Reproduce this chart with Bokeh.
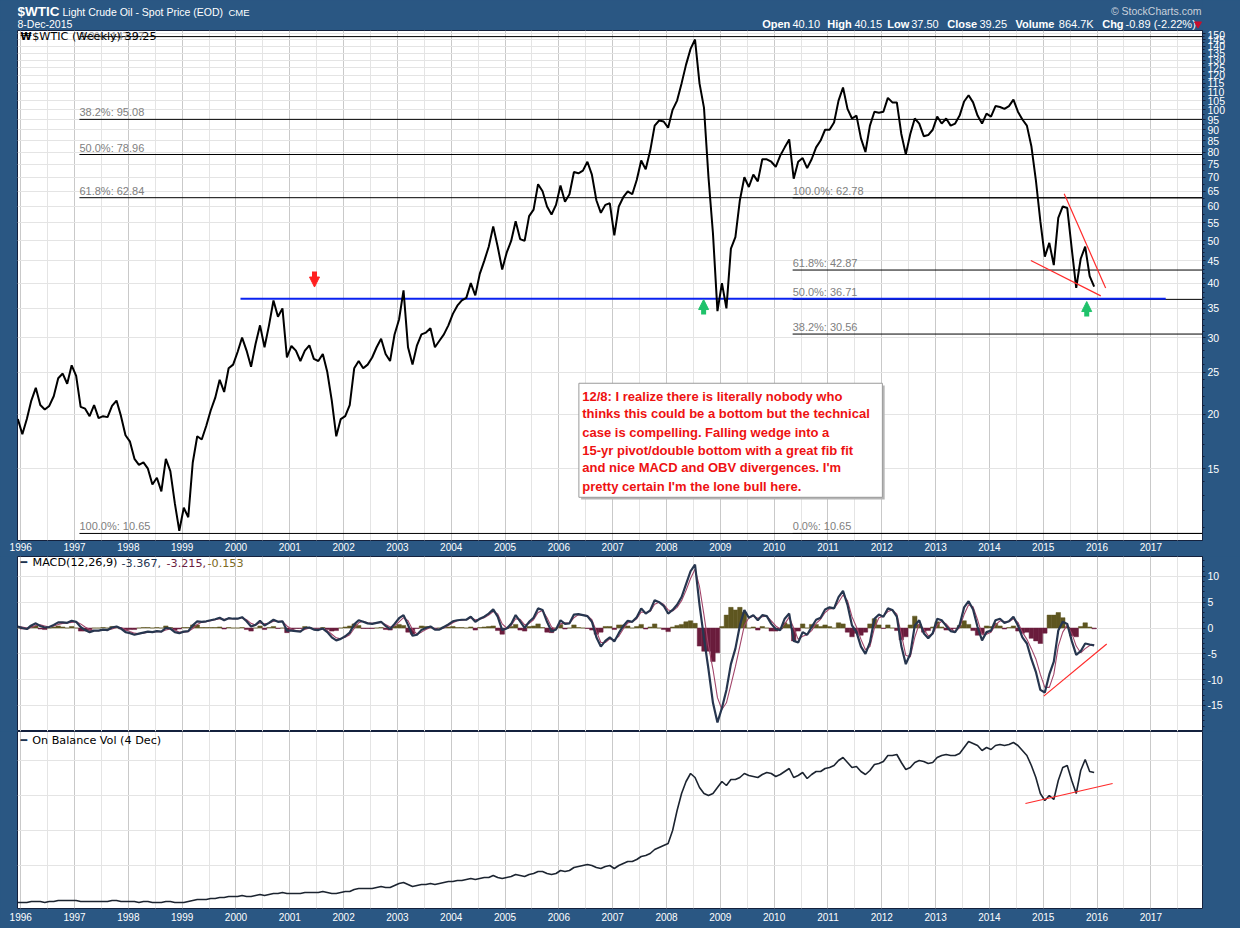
import numpy as np
import pandas as pd
from bokeh.plotting import figure
from bokeh.layouts import column
from bokeh.models import (Range1d, LinearAxis, LogAxis, FixedTicker,
                          PrintfTickFormatter, Grid, Label, Arrow, NormalHead)
from bokeh.core.properties import value
from bokeh.embed import file_html
from bokeh.resources import INLINE

# ---------------------------------------------------------------- data
# $WTIC weekly chart, sampled monthly (Dec 1995 .. Dec 2015)
wtic_1995 = [19.5]
wtic_1996 = [18.0, 19.5, 21.5, 23.0, 21.0, 20.5, 20.9, 22.0, 24.2, 24.8, 23.5, 25.9]
wtic_1997 = [24.5, 20.8, 20.6, 19.8, 21.0, 19.6, 19.8, 19.7, 20.9, 21.5, 19.8, 17.9]
wtic_1998 = [17.3, 15.8, 15.3, 15.5, 15.0, 13.8, 14.3, 13.3, 15.8, 14.8, 12.5, 10.8]
wtic_1999 = [12.2, 11.6, 15.5, 17.8, 17.5, 18.8, 20.4, 21.8, 24.0, 22.5, 25.5, 26.0]
wtic_2000 = [27.8, 30.0, 28.0, 25.7, 29.0, 32.0, 28.5, 32.0, 36.5, 33.5, 35.0, 27.0]
wtic_2001 = [28.7, 28.0, 26.5, 28.0, 28.8, 26.8, 26.5, 27.5, 25.0, 21.5, 17.8, 19.5]
wtic_2002 = [19.8, 21.0, 25.5, 26.5, 25.5, 26.0, 27.0, 28.5, 29.8, 27.5, 26.5, 30.5]
wtic_2003 = [33.0, 38.5, 28.5, 26.0, 28.8, 30.5, 30.8, 31.5, 28.5, 29.5, 30.5, 32.0]
wtic_2004 = [34.0, 35.5, 36.5, 37.0, 40.0, 37.5, 42.0, 45.0, 48.5, 54.0, 48.5, 43.0]
wtic_2005 = [47.0, 50.0, 55.5, 50.5, 50.0, 57.0, 59.0, 67.5, 65.0, 60.0, 57.5, 60.5]
wtic_2006 = [67.0, 61.5, 64.0, 72.0, 71.5, 72.5, 76.0, 71.0, 62.0, 58.0, 60.5, 61.0]
wtic_2007 = [51.5, 60.0, 63.0, 65.0, 64.0, 69.0, 76.5, 73.0, 80.5, 92.0, 94.5, 94.0]
wtic_2008 = [91.0, 100.0, 105.0, 115.0, 127.0, 138.0, 145.0, 115.0, 101.0, 70.0, 52.0, 34.5]
wtic_2009 = [40.0, 35.0, 48.0, 51.0, 62.0, 70.0, 66.5, 71.0, 68.5, 77.0, 77.0, 76.0]
wtic_2010 = [74.0, 78.5, 82.0, 85.5, 69.5, 76.0, 77.5, 73.5, 77.0, 82.0, 85.0, 90.0]
wtic_2011 = [90.0, 93.5, 105.0, 112.5, 100.5, 95.5, 97.0, 86.0, 80.0, 92.0, 99.0, 98.5]
wtic_2012 = [99.0, 106.5, 104.0, 104.0, 88.0, 79.0, 88.0, 95.5, 93.0, 87.0, 87.5, 90.0]
wtic_2013 = [96.5, 93.0, 95.5, 92.0, 93.0, 97.0, 104.5, 108.0, 104.0, 97.0, 93.0, 98.0]
wtic_2014 = [96.5, 102.0, 101.5, 100.5, 102.0, 105.5, 99.0, 95.0, 92.0, 82.5, 69.0, 55.5]
wtic_2015 = [46.0, 49.5, 44.0, 56.5, 60.0, 59.5, 48.0, 39.0, 45.5, 48.5, 41.5, 39.25]

macd_line = [0.3,
    0.0, -0.2, 0.5, 0.9, 0.4, 0.1, 0.2, 0.6, 1.1, 1.1, 1.0, 1.4,
    1.2, 0.2, -0.4, -0.8, -0.5, -0.5, -0.3, -0.4, 0.1, 0.3, -0.1, -0.8,
    -1.0, -1.3, -1.1, -0.9, -0.7, -0.8, -0.6, -0.7, 0.0, -0.1, -0.8, -1.0,
    -0.7, -0.6, 0.5, 1.3, 1.2, 1.3, 1.5, 1.7, 2.0, 1.5, 1.9, 1.8,
    1.8, 2.1, 1.3, 0.3, 0.6, 1.4, 0.5, 1.0, 1.6, 1.2, 1.3, -0.5,
    -0.5, -0.6, -0.7, 0.0, 0.1, -0.3, -0.4, -0.1, -0.8, -1.8, -2.4, -2.1,
    -1.6, -0.9, 0.7, 1.5, 1.2, 0.9, 0.8, 1.0, 1.2, 0.4, -0.2, 0.8,
    1.9, 2.5, 0.6, -1.5, -1.3, -0.4, 0.0, 0.3, -0.3, -0.3, 0.2, 0.7,
    1.3, 1.5, 1.6, 1.6, 2.2, 1.2, 1.8, 2.2, 2.8, 3.6, 2.2, -0.4,
    -0.1, 0.8, 2.5, 1.3, 0.0, 1.2, 2.0, 3.8, 3.5, 1.2, -0.7, -0.3,
    1.5, 0.8, 0.9, 2.6, 2.7, 2.5, 2.3, 1.2, -1.8, -3.6, -2.5, -1.8,
    -2.6, -1.0, 0.4, 1.4, 1.2, 2.1, 3.8, 2.8, 3.4, 5.4, 5.0, 4.3,
    2.8, 3.5, 4.5, 6.0, 8.5, 11.0, 12.3, 4.5, -2.0, -8.0, -14.5, -18.3,
    -15.5, -12.0, -7.0, -4.0, 0.5, 3.5, 2.0, 2.5, 1.5, 2.5, 2.3, 0.8,
    -0.2, -0.4, 1.8, 2.8, -2.5, -2.8, -0.8, -1.3, 0.2, 1.6, 2.0, 3.6,
    4.0, 3.8, 6.0, 7.2, 4.5, 0.5, -0.8, -3.6, -5.0, -2.8, 1.8, 2.6,
    2.2, 3.8, 3.5, 2.2, -3.5, -7.0, -5.0, 0.5, 1.5, -1.0, -2.0, -1.0,
    1.8, 1.5, 0.4, -0.6, -0.8, 0.6, 4.0, 5.2, 3.6, 0.2, -2.4, -0.8,
    -0.5, 1.5, 1.8, 1.0, 1.3, 2.2, 0.5, -1.8, -3.0, -6.0, -8.5, -12.0,
    -12.5, -9.0, -6.5, -0.5, 1.2, 0.8, -2.5, -5.2, -4.5, -3.0, -3.2, -3.367]

macd_signal = [0.3,
    0.2, 0.0, 0.1, 0.5, 0.6, 0.4, 0.2, 0.4, 0.7, 0.9, 1.0, 1.1,
    1.2, 0.8, 0.2, -0.3, -0.5, -0.5, -0.4, -0.4, -0.2, 0.1, 0.1, -0.3,
    -0.7, -1.0, -1.1, -1.0, -0.8, -0.8, -0.7, -0.7, -0.4, -0.2, -0.4, -0.8,
    -0.8, -0.7, -0.1, 0.7, 1.1, 1.2, 1.4, 1.6, 1.8, 1.7, 1.8, 1.8,
    1.8, 2.0, 1.6, 0.9, 0.6, 1.0, 0.8, 0.9, 1.3, 1.3, 1.3, 0.4,
    -0.2, -0.5, -0.6, -0.3, 0.0, -0.2, -0.3, -0.2, -0.5, -1.2, -1.9, -2.1,
    -1.8, -1.3, -0.1, 1.0, 1.3, 1.0, 0.9, 1.0, 1.1, 0.7, 0.2, 0.4,
    1.2, 2.0, 1.4, -0.3, -1.2, -0.8, -0.3, 0.1, -0.1, -0.3, 0.0, 0.5,
    1.0, 1.4, 1.5, 1.6, 2.0, 1.6, 1.7, 2.0, 2.5, 3.2, 2.7, 0.8,
    0.0, 0.5, 1.8, 1.7, 0.6, 0.9, 1.6, 3.0, 3.4, 2.0, 0.2, -0.3,
    0.8, 1.0, 0.9, 2.0, 2.6, 2.5, 2.4, 1.6, -0.6, -2.8, -2.8, -2.1,
    -2.3, -1.6, -0.2, 1.0, 1.2, 1.8, 3.1, 3.0, 3.2, 4.6, 5.0, 4.6,
    3.5, 3.3, 4.0, 5.3, 7.3, 9.6, 11.4, 8.0, 2.5, -3.5, -8.0, -13.5,
    -15.8, -14.5, -11.0, -7.5, -3.5, 0.5, 2.0, 2.3, 1.9, 2.2, 2.3, 1.4,
    0.4, -0.2, 0.8, 2.1, 0.0, -2.2, -1.6, -1.3, -0.5, 0.9, 1.7, 3.0,
    3.7, 3.8, 5.0, 6.4, 5.3, 2.2, 0.2, -2.2, -4.2, -3.6, 0.0, 2.0,
    2.3, 3.2, 3.5, 2.7, -1.2, -5.3, -5.6, -1.8, 0.8, -0.2, -1.5, -1.2,
    0.6, 1.3, 0.8, -0.2, -0.7, 0.1, 2.6, 4.5, 4.1, 1.6, -1.3, -1.2,
    -0.8, 0.6, 1.4, 1.2, 1.2, 1.8, 1.1, -0.8, -2.2, -4.0, -6.0, -9.0,
    -11.5, -11.5, -9.0, -3.5, -0.8, 0.6, -1.0, -3.5, -4.8, -4.0, -3.4, -3.215]

obv = [3,
    3, 3, 4, 4, 4, 3, 4, 4, 5, 5, 5, 5,
    5, 4, 4, 4, 4, 4, 4, 4, 5, 5, 4, 4,
    4, 4, 3, 4, 4, 3, 3, 3, 4, 4, 3, 3,
    3, 4, 5, 6, 6, 6, 7, 7, 8, 8, 9, 9,
    9, 10, 9, 9, 10, 11, 10, 11, 12, 12, 13, 12,
    12, 12, 12, 13, 13, 13, 13, 14, 13, 12, 12, 13,
    14, 14, 16, 17, 17, 17, 17, 18, 19, 18, 18, 20,
    22, 23, 21, 19, 20, 21, 21, 22, 21, 22, 23, 24,
    24, 25, 25, 26, 27, 26, 27, 28, 28, 30, 28, 27,
    28, 29, 31, 30, 29, 31, 32, 34, 34, 32, 31, 32,
    35, 34, 35, 38, 39, 40, 41, 40, 38, 37, 39, 40,
    37, 40, 42, 44, 44, 46, 49, 50, 52, 56, 58, 60,
    62, 75, 95, 112, 124, 132, 128, 118, 112, 110, 112, 118,
    124, 120, 126, 126, 128, 132, 130, 129, 128, 131, 133, 132,
    129, 131, 134, 137, 128, 130, 133, 127, 131, 134, 134, 137,
    138, 140, 145, 148, 143, 138, 139, 134, 131, 135, 141, 142,
    144, 150, 150, 151, 143, 136, 138, 143, 145, 144, 142, 143,
    148, 150, 151, 150, 150, 152, 158, 164, 162, 160, 155, 158,
    156, 160, 161, 160, 161, 163, 160, 155, 150, 140, 128, 112,
    105, 110, 106, 125, 138, 140, 125, 112, 135, 146, 134, 133]

years = list(range(1996, 2018))
price_ticks = [15, 20, 25, 30, 35, 40, 45, 50, 55, 60, 65, 70, 75, 80, 85, 90, 95,
               100, 105, 110, 115, 120, 125, 130, 135, 140, 145, 150]
macd_ticks = [-15, -10, -5, 0, 5, 10]

fib_a_pct = ["0.0%", "38.2%", "50.0%", "61.8%", "100.0%"]
fib_a_val = [147.27, 95.08, 78.96, 62.84, 10.65]
fib_b_pct = ["100.0%", "61.8%", "50.0%", "38.2%", "0.0%"]
fib_b_val = [62.78, 42.87, 36.71, 30.56, 10.65]
support_level = 36.85

wedge_upper_x = [2015.39, 2016.16]
wedge_upper_y = [64.2, 39.0]
wedge_lower_x = [2014.77, 2016.07]
wedge_lower_y = [45.1, 37.4]
macd_div_x = [2015.01, 2016.18]
macd_div_y = [-13.2, -3.1]
obv_div_x = [2014.67, 2016.29]
obv_div_y = [102, 122]

quote_names = ["Open", "High", "Low", "Close", "Volume", "Chg"]
quote_values = ["40.10", "40.15", "37.50", "39.25", "864.7K", "-0.89 (-2.22%)"]

note_lines = [
    "12/8: I realize there is literally nobody who",
    "thinks this could be a bottom but the technical",
    "case is compelling.  Falling wedge into a",
    "15-yr pivot/double bottom with a great fib fit",
    "and nice MACD and OBV divergences. I'm",
    "pretty certain I'm the lone bull here.",
]

wtic = (wtic_1995 + wtic_1996 + wtic_1997 + wtic_1998 + wtic_1999 + wtic_2000 + wtic_2001 +
        wtic_2002 + wtic_2003 + wtic_2004 + wtic_2005 + wtic_2006 + wtic_2007 + wtic_2008 +
        wtic_2009 + wtic_2010 + wtic_2011 + wtic_2012 + wtic_2013 + wtic_2014 + wtic_2015)
months = pd.date_range("1995-12-01", periods=len(wtic), freq="MS")
t = (months.year + (months.month - 1) / 12.0 + 0.03).to_numpy(dtype=float)
hist = np.array(macd_line) - np.array(macd_signal)

# ---------------------------------------------------------------- style
BG = "#2a5783"
EDGE = "#14213d"
FONT = "Liberation Sans"
LFONT = "DejaVu Sans"
GRID_MAJ = "#c9c9c9"
GRID_MIN = "#e4e4e4"
XR = Range1d(1995.94, 2017.96)
FW = 1185


def year_at(px):
    return 1996 + (px - 20.3) / 53.8


def price_at(py):
    return 30 * np.exp((337 - py) / 189.1)


def clear_grids(p):
    p.center = [c for c in p.center if not isinstance(c, Grid)]


def add_xgrid(p):
    halfs = [y + 0.5 for y in range(1995, 2018)]
    p.add_layout(Grid(dimension=0, ticker=FixedTicker(ticks=years, minor_ticks=halfs),
                      grid_line_color=GRID_MAJ, minor_grid_line_color=GRID_MIN))


def style_axis(ax, size="10.5px"):
    ax.axis_line_color = EDGE
    ax.major_tick_line_color = EDGE
    ax.minor_tick_line_color = EDGE
    ax.major_tick_in = 0
    ax.major_tick_out = 3
    ax.minor_tick_in = 0
    ax.minor_tick_out = 2
    ax.major_label_standoff = 2
    ax.major_label_text_color = "white"
    ax.major_label_text_font = FONT
    ax.major_label_text_font_size = size


def year_axis(p, standoff):
    ax = LinearAxis(ticker=FixedTicker(ticks=years), formatter=PrintfTickFormatter(format="%d"))
    ax.axis_line_color = None
    ax.major_tick_line_color = None
    ax.minor_tick_line_color = None
    ax.major_tick_out = 0
    ax.major_tick_in = 0
    ax.major_label_standoff = standoff
    ax.major_label_text_color = "white"
    ax.major_label_text_font = FONT
    ax.major_label_text_font_size = "10px"
    p.add_layout(ax, "below")


def legend_label(p, fh, x, dy, text, color="black", size="11.2px", font=LFONT, style="normal"):
    p.add_layout(Label(x=x, y=fh - dy, x_units="screen", y_units="screen", text=text,
                       text_color=color, text_font=font, text_font_size=size,
                       text_font_style=style, text_baseline="middle"))


# ---------------------------------------------------------------- header
# frame aligned with the panels below: data x == page pixel x, data y == pixel from top
hd = figure(frame_width=FW, frame_height=30, min_border_left=17, min_border_right=38,
            min_border_top=0, min_border_bottom=0,
            x_range=Range1d(17, 1202), y_range=Range1d(30, 0),
            toolbar_location=None, output_backend="svg",
            background_fill_color=BG, border_fill_color=BG, outline_line_color=None,
            x_axis_location=None, y_axis_location=None)
clear_grids(hd)
hd.text(x=[17], y=[10.5], text=["$WTIC"], text_color="white", text_font=value(FONT),
        text_font_size="13.5px", text_font_style="bold", text_baseline="middle")
hd.text(x=[62], y=[11], text=["Light Crude Oil - Spot Price (EOD)"], text_color="white",
        text_font=value(FONT), text_font_size="10.5px", text_baseline="middle")
hd.text(x=[228], y=[11.5], text=["CME"], text_color="white", text_font=value(FONT),
        text_font_size="9.5px", text_baseline="middle")
hd.text(x=[17], y=[23.5], text=["8-Dec-2015"], text_color="white", text_font=value(FONT),
        text_font_size="10.5px", text_baseline="middle")
hd.text(x=[1201], y=[10.5], text=["\u00a9 StockCharts.com"], text_color="#c9d1dc",
        text_font=value(FONT), text_font_size="10.5px", text_align="right",
        text_baseline="middle")
hd.text(x=[761.7, 826.7, 886.7, 946.7, 1015.0, 1101.7], y=[23.3] * 6,
        text=quote_names, text_color="white",
        text_font=value(FONT), text_font_size="11px", text_font_style="bold",
        text_baseline="middle")
hd.text(x=[792.0, 854.0, 910.7, 979.0, 1058.3, 1125.0], y=[23.3] * 6,
        text=quote_values, text_color="white", text_font=value(FONT), text_font_size="11px",
        text_baseline="middle")
hd.scatter(x=[1197.5], y=[23.5], marker="inverted_triangle", size=7, color="#c8102e")

# ---------------------------------------------------------------- price panel
PH = 510
pp = figure(frame_width=FW, frame_height=PH, min_border_left=17, min_border_right=38,
            min_border_top=0, min_border_bottom=16, x_range=XR,
            y_range=Range1d(10.26, 152.1), y_axis_type="log",
            x_axis_location=None, y_axis_location=None, toolbar_location=None,
            output_backend="svg", background_fill_color="white", border_fill_color=BG,
            outline_line_color=EDGE)
clear_grids(pp)
add_xgrid(pp)
pp.add_layout(Grid(dimension=1, ticker=FixedTicker(ticks=price_ticks), grid_line_color=GRID_MIN))
pminor = [v for v in range(11, 50)] + [v + 2.5 for v in range(50, 150, 5)]
yax = LogAxis(ticker=FixedTicker(ticks=price_ticks, minor_ticks=pminor),
              formatter=PrintfTickFormatter(format="%d"))
style_axis(yax)
pp.add_layout(yax, "right")
year_axis(pp, 2)

# fib retracements
pp.segment(x0=[year_at(79)] * 5, y0=fib_a_val, x1=[2019] * 5, y1=fib_a_val,
           line_color="black", line_width=1)
pp.segment(x0=[year_at(792)] * 5, y0=fib_b_val, x1=[2019] * 5, y1=fib_b_val,
           line_color="black", line_width=1)
pp.text(x=[year_at(79)] * 4, y=fib_a_val[1:],
        text=[f"{a}: {b:.2f}" for a, b in zip(fib_a_pct[1:], fib_a_val[1:])],
        text_color="#808080", text_font=value(FONT), text_font_size="11px",
        text_baseline="bottom", y_offset=-1)
pp.text(x=[year_at(79)], y=[fib_a_val[0]],
        text=[f"{fib_a_pct[0]}: {fib_a_val[0]:.2f}"],
        text_color="#8c8c8c", text_font=value(FONT), text_font_size="11px",
        text_baseline="middle", y_offset=-1)
pp.text(x=[year_at(792)] * 5, y=fib_b_val,
        text=[f"{a}: {b:.2f}" for a, b in zip(fib_b_pct, fib_b_val)],
        text_color="#808080", text_font=value(FONT), text_font_size="11px",
        text_baseline="bottom", y_offset=-1)
# support line
pp.segment(x0=[year_at(240)], y0=[support_level], x1=[year_at(1165)], y1=[support_level],
           line_color="#0a22f0", line_width=2)

# price
pp.line(t, wtic, line_color="black", line_width=2)

# wedge lines
pp.line(wedge_upper_x, wedge_upper_y, line_color="#ff2a2a", line_width=1.2)
pp.line(wedge_lower_x, wedge_lower_y, line_color="#ff2a2a", line_width=1.2)

# arrows
pp.add_layout(Arrow(end=NormalHead(size=10, fill_color="#ff2020", line_color="#ff2020"),
                    x_start=year_at(314), y_start=price_at(271), x_end=year_at(314),
                    y_end=price_at(286.5), line_color="#ff2020", line_width=5))
for ax_ in (703, 1086):
    base = 314 if ax_ == 703 else 316
    pp.add_layout(Arrow(end=NormalHead(size=10, fill_color="#1fc26a", line_color="#1fc26a"),
                        x_start=year_at(ax_), y_start=price_at(base), x_end=year_at(ax_),
                        y_end=price_at(base - 15), line_color="#1fc26a", line_width=5))

# comment box
pp.quad(left=[year_at(580.5)], right=[year_at(884)], top=[price_at(385)],
        bottom=[price_at(499)], fill_color="#b5b5b5", line_color=None)
pp.quad(left=[year_at(578.3)], right=[year_at(881.7)], top=[price_at(382.7)],
        bottom=[price_at(496.7)], fill_color="white", line_color="#9a9a9a", line_width=1)
pp.text(x=[year_at(581.7)] * 6, y=[price_at(382.7)] * 6, text=note_lines,
        y_offset=[13.0, 30.6, 49.0, 67.3, 84.6, 103.0], text_color="#ee1111",
        text_font=value(FONT), text_font_size="13px", text_font_style="bold",
        text_baseline="middle")

legend_label(pp, PH, 3, 6, "\u20a9", style="bold", size="10px")
legend_label(pp, PH, 14.7, 6, "$WTIC (Weekly) 39.25")

# ---------------------------------------------------------------- MACD panel
MH = 175
pm = figure(frame_width=FW, frame_height=MH, min_border_left=17, min_border_right=38,
            min_border_top=0, min_border_bottom=0, x_range=XR,
            y_range=Range1d(-20.06, 13.86), x_axis_location=None, y_axis_location=None,
            toolbar_location=None, output_backend="svg", background_fill_color="white",
            border_fill_color=BG, outline_line_color=EDGE)
clear_grids(pm)
add_xgrid(pm)
pm.add_layout(Grid(dimension=1, ticker=FixedTicker(ticks=macd_ticks), grid_line_color=GRID_MIN))
max_ = LinearAxis(ticker=FixedTicker(ticks=macd_ticks, minor_ticks=list(range(-20, 14))),
                  formatter=PrintfTickFormatter(format="%d"))
style_axis(max_)
pm.add_layout(max_, "right")
hcol = ["#5e5620" if h >= 0 else "#6a1c3c" for h in hist]
pm.vbar(x=t, top=hist, bottom=0, width=1 / 12, fill_color=hcol, line_color=hcol,
        line_width=0.5)
pm.line(t, macd_signal, line_color="#a2456a", line_width=1.1)
pm.line(t, macd_line, line_color="#27364f", line_width=2.2)
pm.line(macd_div_x, macd_div_y, line_color="#ff2a2a", line_width=1.2)
legend_label(pm, MH, 3, 6, "\u2501", color="#1f3350", size="11px")
legend_label(pm, MH, 15, 6, "MACD(12,26,9)")
legend_label(pm, MH, 104, 6, "-3.367,", color="#1f3552")
legend_label(pm, MH, 149, 6, "-3.215,", color="#6b2040")
legend_label(pm, MH, 190, 6, "-0.153", color="#7d6b25")

# ---------------------------------------------------------------- OBV panel
OH = 177
po = figure(frame_width=FW, frame_height=OH, min_border_left=17, min_border_right=38,
            min_border_top=0, min_border_bottom=20, x_range=XR,
            y_range=Range1d(-3, 174), x_axis_location=None, y_axis_location=None,
            toolbar_location=None, output_backend="svg", background_fill_color="white",
            border_fill_color=BG, outline_line_color=EDGE)
clear_grids(po)
add_xgrid(po)
po.add_layout(Grid(dimension=1, ticker=FixedTicker(ticks=[40, 75, 110, 145]),
                   grid_line_color=GRID_MIN))
year_axis(po, 4)
po.line(t, obv, line_color="#1c2430", line_width=1.6)
po.line(obv_div_x, obv_div_y, line_color="#ff2a2a", line_width=1.2)
legend_label(po, OH, 3, 9, "\u2501", color="#1f3350", size="11px")
legend_label(po, OH, 14.7, 9, "On Balance Vol (4 Dec)")

layout = column(hd, pp, pm, po, spacing=0)
layout.styles = {"background-color": BG}
open("out.html", "w").write(file_html(layout, INLINE))
